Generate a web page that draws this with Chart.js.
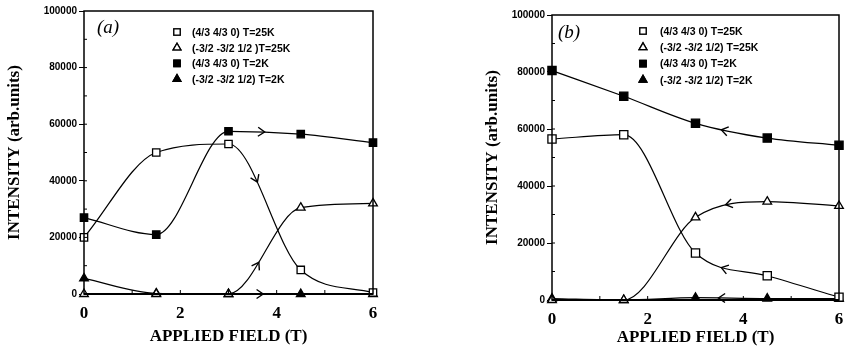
<!DOCTYPE html>
<html>
<head>
<meta charset="utf-8">
<script src="https://cdn.jsdelivr.net/npm/chart.js@4/dist/chart.umd.min.js"></script>
<style>
  body { margin: 0; background: #fff; width: 845px; height: 349px; overflow: hidden; position: relative; }
  .panel { position: absolute; top: 0; height: 349px; }
  #wrapA { left: 0; width: 400px; }
  #wrapB { left: 420px; width: 425px; }
</style>
</head>
<body>
<div class="panel" id="wrapA"><canvas id="chartA"></canvas></div>
<div class="panel" id="wrapB"><canvas id="chartB"></canvas></div>
<script>
// applied field (T) for every measured point
const fieldValues = [0, 1.5, 3, 4.5, 6];

const legendLabelsA = ['(4/3 4/3 0) T=25K', '(-3/2 -3/2 1/2 )T=25K', '(4/3 4/3 0) T=2K', '(-3/2 -3/2 1/2) T=2K'];
const legendLabelsB = ['(4/3 4/3 0) T=25K', '(-3/2 -3/2 1/2) T=25K', '(4/3 4/3 0) T=2K', '(-3/2 -3/2 1/2) T=2K'];

// panel (a)
const a25Square   = [20000, 50000, 53000, 8500, 500];
const a25Triangle = [0, 0, 0, 30500, 32000];
const a2Square    = [27000, 21000, 57500, 56500, 53500];
const a2Triangle  = [5500, 200, 0, 0, 0];

// panel (b)
const b25Square   = [56500, 58000, 16500, 8500, 1000];
const b25Triangle = [0, 0, 29000, 34500, 33000];
const b2Square    = [80500, 71500, 62000, 56800, 54300];
const b2Triangle  = [500, 0, 800, 500, 500];

const yTickStep = 20000;
const xTickStep = 2;

Chart.defaults.font.family = "'Liberation Sans', Arial, sans-serif";
Chart.defaults.color = '#000';

const pts = vals => vals.map((v, i) => ({ x: fieldValues[i], y: v }));

// box around the plot plus small inward minor ticks
const framePlugin = {
  id: 'frame',
  afterDraw(chart) {
    const { ctx, chartArea: a, scales: { x, y } } = chart;
    ctx.save();
    ctx.strokeStyle = '#000';
    ctx.lineWidth = 1.5;
    ctx.strokeRect(a.left, a.top, a.right - a.left, a.bottom - a.top);
    ctx.lineWidth = 2;
    ctx.beginPath();
    ctx.moveTo(a.left, a.bottom); ctx.lineTo(a.right, a.bottom);
    ctx.stroke();
    ctx.lineWidth = 1;
    ctx.beginPath();
    for (let v = 1; v < 6; v++) {
      const px = x.getPixelForValue(v);
      ctx.moveTo(px, a.bottom); ctx.lineTo(px, a.bottom - 4);
    }
    for (let v = 10000; v < 100000; v += 10000) {
      const py = y.getPixelForValue(v);
      ctx.moveTo(a.left, py); ctx.lineTo(a.left + 3, py);
    }
    ctx.stroke();
    ctx.restore();
  }
};

// direction arrows sitting on the spline segments
const arrowPlugin = {
  id: 'arrows',
  afterDatasetsDraw(chart, args, opts) {
    const ctx = chart.ctx;
    ctx.save();
    ctx.strokeStyle = '#000';
    ctx.lineWidth = 1.4;
    (opts.list || []).forEach(ar => {
      const el = chart.getDatasetMeta(ar.ds).data;
      const p0 = el[ar.seg], p1 = el[ar.seg + 1];
      const c1x = p0.cp2x ?? p0.x, c1y = p0.cp2y ?? p0.y;
      const c2x = p1.cp1x ?? p1.x, c2y = p1.cp1y ?? p1.y;
      const t = ar.t, u = 1 - t;
      const bx = u*u*u*p0.x + 3*u*u*t*c1x + 3*u*t*t*c2x + t*t*t*p1.x;
      const by = u*u*u*p0.y + 3*u*u*t*c1y + 3*u*t*t*c2y + t*t*t*p1.y;
      const dx = 3*u*u*(c1x - p0.x) + 6*u*t*(c2x - c1x) + 3*t*t*(p1.x - c2x);
      const dy = 3*u*u*(c1y - p0.y) + 6*u*t*(c2y - c1y) + 3*t*t*(p1.y - c2y);
      let ang = Math.atan2(dy, dx);
      if (ar.dir < 0) ang += Math.PI;
      const L = 8, w = 0.6;
      ctx.beginPath();
      ctx.moveTo(bx - L * Math.cos(ang - w), by - L * Math.sin(ang - w));
      ctx.lineTo(bx, by);
      ctx.lineTo(bx - L * Math.cos(ang + w), by - L * Math.sin(ang + w));
      ctx.stroke();
    });
    ctx.restore();
  }
};

// legend inside the plot area and the panel letter
const notePlugin = {
  id: 'notes',
  afterDraw(chart, args, opts) {
    const ctx = chart.ctx;
    ctx.save();
    ctx.fillStyle = '#000';
    ctx.font = "italic 19px 'Liberation Serif', serif";
    ctx.textBaseline = 'middle';
    ctx.fillText(opts.panel, opts.panelX, opts.panelY);
    ctx.font = "bold 10.5px 'Liberation Sans', Arial, sans-serif";
    chart.data.datasets.forEach((ds, i) => {
      const y = opts.legY + i * opts.legStep;
      ctx.fillStyle = ds.pointBackgroundColor;
      ctx.strokeStyle = '#000';
      ctx.lineWidth = 1.3;
      ctx.beginPath();
      Chart.helpers.drawPoint(ctx, { pointStyle: ds.pointStyle, radius: 4.5, borderWidth: 1.3, rotation: 0 }, opts.symX, y);
      ctx.fill();
      ctx.stroke();
      ctx.fillStyle = '#000';
      ctx.fillText(ds.label, opts.textX, y + 1);
    });
    ctx.restore();
  }
};

const noScalePadding = s => { s.paddingLeft = 0; s.paddingRight = 0; s.paddingTop = 0; s.paddingBottom = 0; };

function makeChart(id, cfg) {
  const common = {
    borderColor: '#000', borderWidth: 1.2,
    pointBorderColor: '#000', pointBorderWidth: 1.3,
    cubicInterpolationMode: 'monotone', clip: false
  };
  // index 0 is painted last, so the open markers stay on top
  return new Chart(document.getElementById(id), {
    type: 'line',
    data: {
      datasets: [
        { ...common, label: cfg.labels[0], data: pts(cfg.sq25), pointStyle: 'rect', pointRadius: cfg.sqR, pointBackgroundColor: '#fff' },
        { ...common, label: cfg.labels[1], data: pts(cfg.tri25), pointStyle: 'triangle', pointRadius: cfg.triR, pointBackgroundColor: '#fff' },
        { ...common, label: cfg.labels[2], data: pts(cfg.sq2), pointStyle: 'rect', pointRadius: cfg.sqR, pointBackgroundColor: '#000' },
        { ...common, label: cfg.labels[3], data: pts(cfg.tri2), pointStyle: 'triangle', pointRadius: cfg.triR, pointBackgroundColor: '#000' }
      ]
    },
    options: {
      responsive: true,
      maintainAspectRatio: false,
      animation: false,
      layout: { autoPadding: false, padding: cfg.padding },
      plugins: {
        legend: { display: false },
        tooltip: { enabled: false },
        arrows: { list: cfg.arrows },
        notes: cfg.notes
      },
      scales: {
        x: {
          type: 'linear', min: 0, max: 6,
          ticks: { stepSize: xTickStep, padding: 9, maxRotation: 0, font: { family: "'Liberation Serif', serif", size: 17, weight: 'bold' } },
          grid: { display: false, drawTicks: false },
          border: { display: false },
          title: { display: true, text: 'APPLIED FIELD (T)', padding: { top: 0, bottom: 0 },
                   font: { family: "'Liberation Serif', serif", size: 17, weight: 'bold' } },
          afterFit(s) { s.height = cfg.xHeight; noScalePadding(s); }
        },
        y: {
          min: 0, max: 100000,
          ticks: { stepSize: yTickStep, padding: 2, font: { size: 10, weight: 'bold' }, callback: v => String(v) },
          grid: { drawOnChartArea: false, drawTicks: true, tickLength: 5, color: '#000' },
          border: { display: false },
          title: { display: true, text: 'INTENSITY (arb.units)', padding: { top: 0, bottom: 0 },
                   font: { family: "'Liberation Serif', serif", size: 17, weight: 'bold' } },
          afterFit(s) { s.width = cfg.yWidth; noScalePadding(s); }
        }
      }
    },
    plugins: [framePlugin, arrowPlugin, notePlugin]
  });
}

// dataset order: 0 = 25K square, 1 = 25K triangle, 2 = 2K square, 3 = 2K triangle
makeChart('chartA', {
  labels: legendLabelsA, sq25: a25Square, tri25: a25Triangle, sq2: a2Square, tri2: a2Triangle,
  sqR: 5.2, triR: 5,
  padding: { left: 4, right: 27, top: 11, bottom: 2 },
  yWidth: 80, xHeight: 53,
  arrows: [
    { ds: 0, seg: 2, t: 0.4, dir: 1 },
    { ds: 1, seg: 2, t: 0.42, dir: 1 },
    { ds: 2, seg: 2, t: 0.5, dir: 1 },
    { ds: 3, seg: 2, t: 0.48, dir: 1 }
  ],
  notes: { panel: '(a)', panelX: 97, panelY: 28, symX: 177, textX: 192, legY: 32, legStep: 15.7 }
});

makeChart('chartB', {
  labels: legendLabelsB, sq25: b25Square, tri25: b25Triangle, sq2: b2Square, tri2: b2Triangle,
  sqR: 5.8, triR: 5,
  padding: { left: 62, right: 6, top: 15, bottom: 1 },
  yWidth: 70, xHeight: 48,
  arrows: [
    { ds: 0, seg: 2, t: 0.36, dir: -1 },
    { ds: 1, seg: 2, t: 0.42, dir: -1 },
    { ds: 2, seg: 2, t: 0.36, dir: -1 },
    { ds: 3, seg: 2, t: 0.32, dir: -1 }
  ],
  notes: { panel: '(b)', panelX: 138, panelY: 33, symX: 223, textX: 240, legY: 31, legStep: 16.3 }
});
</script>
</body>
</html>
